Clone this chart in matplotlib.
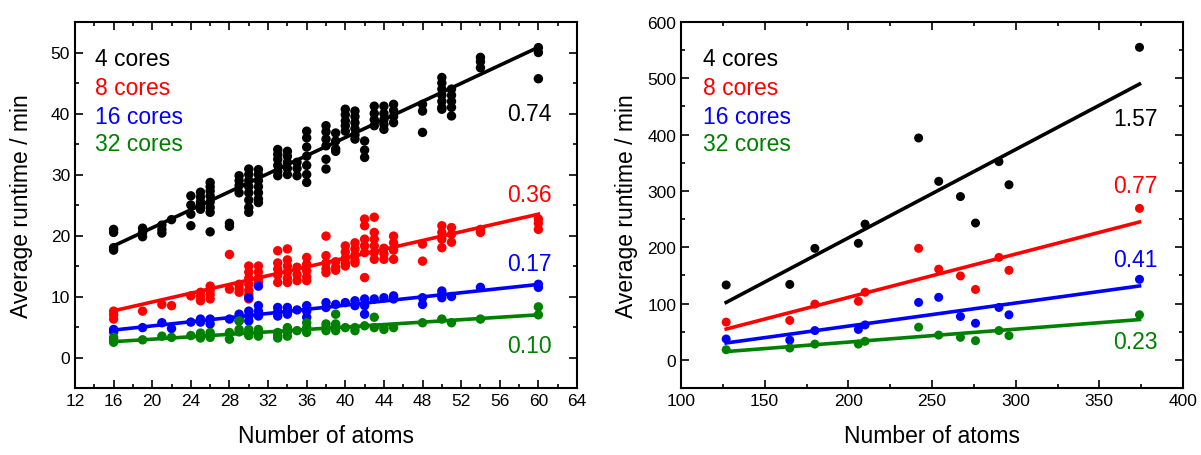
import matplotlib
matplotlib.use("Agg")
import matplotlib.pyplot as plt
import numpy as np

plt.rcParams['font.family'] = ['Liberation Sans', 'DejaVu Sans']

# ---------------- Left panel data ----------------
left_x = [16, 19, 21, 22, 24, 25, 26, 28, 29, 30, 31, 33, 34, 35, 36, 38, 39,
          40, 41, 42, 43, 44, 45, 48, 50, 51, 54, 60]
left_4cores = [
    [21.0, 20.5, 17.6, 18.0], [21.2, 19.8, 20.5], [21.7, 20.4, 21.0], [22.6],
    [26.5, 23.5, 21.6, 25.0], [27.1, 26.3, 25.5, 24.9, 24.3],
    [28.7, 28.0, 27.3, 26.5, 25.5, 24.6, 23.8, 20.6], [22.0, 21.5],
    [29.8, 29.0, 28.2, 27.0], [30.9, 30.0, 29.0, 28.0, 27.0, 25.8, 24.6, 23.8],
    [30.8, 30.0, 29.0, 28.0, 27.0, 26.0, 25.4], [34.1, 33.3, 32.5, 31.5, 30.5, 29.8],
    [33.8, 33.0, 32.0, 31.0, 30.0], [32.0, 31.0, 29.8],
    [37.1, 36.0, 34.5, 33.0, 31.5, 30.0, 28.7], [38.0, 37.0, 35.8, 34.7, 32.5, 30.9],
    [36.8, 35.5, 34.2, 33.8], [40.7, 39.8, 38.8, 38.0, 37.1],
    [40.4, 39.5, 38.5, 37.5, 36.5, 35.8], [35.5, 34.0, 32.8], [41.2, 40.0, 39.0, 38.0],
    [41.2, 40.0, 39.0, 38.2, 37.4], [41.5, 40.5, 39.5, 38.5], [41.5, 40.4, 36.9],
    [45.9, 45.0, 44.0, 43.0, 42.0, 41.0, 40.7], [44.0, 43.0, 42.0, 41.0, 39.6],
    [49.2, 48.5, 47.5], [50.8, 50.0, 45.7]]
left_8cores = [
    [7.6, 7.0, 6.3], [7.6], [8.7], [8.5], [10.1], [10.7, 10.0, 9.3],
    [11.7, 11.0, 10.3, 9.6], [16.9, 11.2], [12.0, 11.3, 10.7],
    [15.0, 14.0, 13.0, 12.0, 11.0, 10.3, 9.6], [15.0, 14.0, 13.0, 12.3],
    [17.5, 15.5, 14.5, 13.5, 12.3], [17.8, 16.0, 15.0, 14.0, 13.0, 12.3],
    [14.8, 13.6, 12.6], [16.4, 15.3, 14.2, 13.2, 12.6], [19.9, 16.7, 15.5, 14.5, 13.9],
    [15.7, 14.8, 14.3], [18.3, 17.3, 16.3, 15.5, 15.0], [18.8, 17.8, 16.8, 15.9, 15.5],
    [22.7, 21.6, 19.4, 18.3, 17.2, 13.1], [23.0, 20.5, 19.4, 18.3, 17.2, 16.1],
    [17.9, 17.0, 16.1], [19.9, 18.8, 17.6, 16.1], [18.6, 15.8],
    [21.6, 20.5, 19.4, 18.0], [21.3, 20.2, 18.9], [21.0, 20.5], [22.7, 22.0, 21.0]]
left_16cores = [
    [4.6, 4.2], [4.9], [5.7], [4.75], [5.8], [6.3, 5.8], [6.3, 5.5], [6.3],
    [7.1, 6.5, 6.0], [9.8, 7.6, 6.8, 6.0], [11.7, 8.5, 7.6, 6.8], [8.2, 7.5, 6.8],
    [8.2, 7.6, 7.1], [7.8], [8.5, 7.6, 6.6], [9.0, 8.2], [8.7], [9.0], [9.3, 8.5],
    [9.6, 8.5, 7.1], [9.6], [9.8], [10.1, 9.6], [9.8, 8.7], [10.9, 10.3, 9.8],
    [10.0], [11.5], [12.0, 11.5]]
left_32cores = [
    [3.3, 2.9, 2.5], [2.9], [3.5], [3.3], [3.6], [4.0, 3.6, 3.2], [4.1, 3.7, 3.3],
    [4.1, 3.0], [6.0, 4.6, 4.2], [4.6, 4.1, 3.6], [4.6, 4.0, 3.5], [4.1, 3.6, 3.2],
    [4.9, 4.2, 3.5], [4.4], [5.7, 4.9, 4.1], [5.5, 4.9, 4.4], [7.1, 5.5, 4.9, 4.4],
    [4.9], [4.9, 4.4], [5.2], [6.6, 4.9], [4.9, 4.6], [4.9], [5.7], [6.3], [5.7],
    [6.3], [8.3, 7.0]]
left_slopes = [0.74, 0.36, 0.17, 0.10]
left_intercepts = [6.46, 1.9, 1.78, 1.0]
left_slope_labels = ["0.74", "0.36", "0.17", "0.10"]

# ---------------- Right panel data ----------------
right_x = [127, 165, 180, 206, 210, 242, 254, 267, 276, 290, 296, 374]
right_4cores = [133, 134, 198, 207, 241, 394, 317, 290, 243, 352, 311, 555]
right_8cores = [67, 70, 99, 104, 120, 198, 161, 149, 125, 182, 159, 269]
right_16cores = [37, 35, 52, 54, 62, 102, 111, 77, 65, 93, 80, 143]
right_32cores = [18, 21, 28, 28, 33, 58, 44, 40, 34, 52, 43, 80]
right_slopes = [1.57, 0.77, 0.41, 0.23]
right_intercepts = [-97.4, -43.1, -22.1, -14.5]
right_slope_labels = ["1.57", "0.77", "0.41", "0.23"]

series_names = ["4 cores", "8 cores", "16 cores", "32 cores"]
colors = ["black", "#ff0000", "#0000ff", "#008000"]

fig = plt.figure(figsize=(12.01, 4.56), dpi=100)
axL = fig.add_axes([75/1201, 67/456, 502/1201, 366/456])
axR = fig.add_axes([681/1201, 67/456, 502/1201, 366/456])

def style(ax):
    for s in ax.spines.values():
        s.set_linewidth(1.5)
    ax.tick_params(which='both', direction='in', top=True, right=True,
                   labelsize=12.5, width=1.2)
    ax.tick_params(which='major', length=6)
    ax.tick_params(which='minor', length=3)

# Left
left_series = [left_4cores, left_8cores, left_16cores, left_32cores]
for vals, c, a, b in zip(left_series, colors, left_intercepts, left_slopes):
    xs = [x for x, col in zip(left_x, vals) for _ in col]
    ys = [v for col in vals for v in col]
    axL.scatter(xs, ys, s=46, color=c, edgecolors='none', zorder=3)
    xl = np.array([min(left_x), max(left_x)])
    axL.plot(xl, a + b * xl, color=c, lw=2.6, zorder=2)
axL.set_xlim(12, 64)
axL.set_ylim(-5, 55)
axL.set_xticks(np.arange(12, 65, 4))
axL.set_xticks(np.arange(12, 65, 2), minor=True)
axL.set_yticks(np.arange(0, 51, 10))
axL.set_yticks(np.arange(-5, 56, 5), minor=True)
style(axL)

# Right
right_series = [right_4cores, right_8cores, right_16cores, right_32cores]
for ys, c, a, b in zip(right_series, colors, right_intercepts, right_slopes):
    axR.scatter(right_x, ys, s=42, color=c, edgecolors='none', zorder=3)
    xl = np.array([min(right_x), max(right_x)])
    axR.plot(xl, a + b * xl, color=c, lw=2.6, zorder=2)
axR.set_xlim(100, 400)
axR.set_ylim(-50, 600)
axR.set_xticks(np.arange(100, 401, 50))
axR.set_xticks(np.arange(100, 401, 25), minor=True)
axR.set_yticks(np.arange(0, 601, 100))
axR.set_yticks(np.arange(-50, 601, 50), minor=True)
style(axR)

legend_y = [0.899, 0.822, 0.743, 0.667]
left_lab_y = [0.751, 0.530, 0.339, 0.116]
right_lab_y = [0.735, 0.552, 0.352, 0.126]
for ax, lx, labs, laby in [(axL, 0.040, left_slope_labels, left_lab_y),
                           (axR, 0.043, right_slope_labels, right_lab_y)]:
    for name, c, ly in zip(series_names, colors, legend_y):
        ax.text(lx, ly, name, color=c, fontsize=16.5, transform=ax.transAxes,
                ha='left', va='center')
    for t, c, ly in zip(labs, colors, laby):
        ax.text(0.950, ly, t, color=c, fontsize=16.5, transform=ax.transAxes,
                ha='right', va='center')
    ax.set_xlabel("Number of atoms", fontsize=16.5)
    ax.set_ylabel("Average runtime / min", fontsize=16.5)
    ax.xaxis.set_label_coords(0.5, -0.097)

axL.yaxis.set_label_coords(-0.083, 0.5)
axR.yaxis.set_label_coords(-0.085, 0.5)

fig.savefig("out.png", dpi=100)
